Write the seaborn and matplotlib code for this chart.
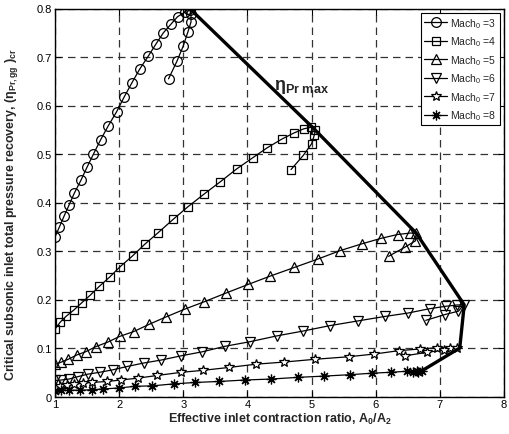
import matplotlib
matplotlib.use("Agg")
import matplotlib.pyplot as plt
import seaborn as sns
import numpy as np

# ---- data ----
m3_x = [1.0, 1.07, 1.145, 1.22, 1.30, 1.405, 1.50, 1.60, 1.71, 1.83, 1.96, 2.08, 2.20, 2.32, 2.455, 2.575,
        2.69, 2.81, 2.91, 3.03, 3.07, 3.11, 3.12, 3.12, 3.07, 3.00, 2.90, 2.77]
m3_y = [0.329, 0.350, 0.373, 0.395, 0.419, 0.446, 0.473, 0.500, 0.529, 0.558, 0.587, 0.618, 0.647, 0.675, 0.702,
        0.727, 0.750, 0.768, 0.783, 0.793, 0.798, 0.797, 0.789, 0.772, 0.751, 0.723, 0.691, 0.655]

m4_x = [1.0, 1.08, 1.17, 1.30, 1.415, 1.55, 1.69, 1.85, 2.01, 2.21, 2.40, 2.61, 2.84, 3.07, 3.33, 3.58, 3.83,
        4.08, 4.31, 4.54, 4.72, 4.88, 4.99, 5.06, 5.045, 5.00, 4.87, 4.68]
m4_y = [0.139, 0.153, 0.165, 0.179, 0.193, 0.209, 0.227, 0.246, 0.267, 0.290, 0.314, 0.338, 0.365, 0.391, 0.418,
        0.443, 0.469, 0.492, 0.513, 0.531, 0.543, 0.552, 0.555, 0.550, 0.540, 0.521, 0.497, 0.468]

m5_x = [1.0, 1.09, 1.21, 1.34, 1.48, 1.64, 1.82, 2.01, 2.23, 2.47, 2.73, 3.02, 3.32, 3.66, 4.01, 4.35, 4.73,
        5.10, 5.45, 5.79, 6.08, 6.34, 6.54, 6.63, 6.62, 6.45, 6.20]
m5_y = [0.066, 0.0705, 0.077, 0.0856, 0.0924, 0.103, 0.112, 0.124, 0.134, 0.149, 0.164, 0.180, 0.195, 0.213,
        0.231, 0.248, 0.266, 0.2835, 0.301, 0.315, 0.326, 0.334, 0.337, 0.3365, 0.321, 0.3075, 0.289]

m6_x = [1.0, 1.10, 1.22, 1.36, 1.51, 1.70, 1.90, 2.13, 2.38, 2.65, 2.97, 3.29, 3.65, 4.04, 4.46, 4.87, 5.28,
        5.73, 6.14, 6.50, 6.84, 7.09, 7.27, 7.37, 7.29, 7.08, 6.78]
m6_y = [0.033, 0.034, 0.036, 0.041, 0.046, 0.050, 0.055, 0.062, 0.069, 0.075, 0.084, 0.092, 0.1035, 0.113,
        0.125, 0.135, 0.146, 0.156, 0.165, 0.172, 0.181, 0.186, 0.1887, 0.189, 0.176, 0.169, 0.157]

m7_x = [1.0, 1.08, 1.18, 1.30, 1.43, 1.58, 1.81, 2.03, 2.30, 2.59, 2.96, 3.31, 3.72, 4.14, 4.57, 5.05, 5.58,
        5.98, 6.36, 6.69, 6.96, 7.16, 7.26, 7.06, 6.80, 6.46]
m7_y = [0.019, 0.021, 0.023, 0.025, 0.0275, 0.029, 0.031, 0.034, 0.038, 0.0433, 0.0497, 0.054, 0.060, 0.0667,
        0.071, 0.0767, 0.082, 0.0876, 0.0945, 0.098, 0.1006, 0.101, 0.0994, 0.0959, 0.091, 0.084]

m8_x = [1.0, 1.10, 1.22, 1.39, 1.57, 1.75, 1.99, 2.25, 2.52, 2.85, 3.19, 3.56, 3.96, 4.37, 4.79, 5.19, 5.60,
        5.94, 6.24, 6.48, 6.64, 6.72, 6.66, 6.58]
m8_y = [0.012, 0.0125, 0.013, 0.013, 0.014, 0.0155, 0.0175, 0.021, 0.022, 0.026, 0.029, 0.031, 0.034, 0.036,
        0.0395, 0.042, 0.045, 0.048, 0.050, 0.052, 0.052, 0.053, 0.0515, 0.050]

peak_x = [3.10, 5.03, 6.63, 7.38, 7.31, 6.72]
peak_y = [0.800, 0.553, 0.337, 0.189, 0.100, 0.053]

mach_labels = ["Mach$_0$ =3", "Mach$_0$ =4", "Mach$_0$ =5", "Mach$_0$ =6", "Mach$_0$ =7", "Mach$_0$ =8"]
x_ticks = [1, 2, 3, 4, 5, 6, 7, 8]
y_ticks = [0, 0.1, 0.2, 0.3, 0.4, 0.5, 0.6, 0.7, 0.8]
y_ticklabels = ["0", "0.1", "0.2", "0.3", "0.4", "0.5", "0.6", "0.7", "0.8"]

# ---- style ----
sns.set_theme(style="white")
plt.rcParams["font.family"] = ["Liberation Sans", "DejaVu Sans"]
plt.rcParams["mathtext.fontset"] = "custom"
plt.rcParams["mathtext.rm"] = "Liberation Sans"
plt.rcParams["mathtext.it"] = "Liberation Sans:italic"
plt.rcParams["mathtext.bf"] = "Liberation Sans:bold"
plt.rcParams["mathtext.default"] = "regular"

fig = plt.figure(figsize=(5.10, 4.35), dpi=100)
ax = fig.add_axes([55 / 510, 1 - 397.5 / 435, (504 - 55) / 510, (397.5 - 9.5) / 435])

series = [
    (m3_x, m3_y, "o", 7, "none"),
    (m4_x, m4_y, "s", 5.5, "none"),
    (m5_x, m5_y, "^", 6.5, "none"),
    (m6_x, m6_y, "v", 6.5, "none"),
    (m7_x, m7_y, "*", 7.5, "white"),
    (m8_x, m8_y, (8, 2, 0), 7, "none"),
]
for (xs, ys, mk, ms, mfc), lab in zip(series, mach_labels):
    sns.lineplot(x=xs, y=ys, sort=False, ax=ax, color="black", linewidth=0.9,
                 marker=mk, markersize=ms, markerfacecolor=mfc, markeredgecolor="black",
                 markeredgewidth=0.9, label=lab, estimator=None)

sns.lineplot(x=peak_x, y=peak_y, sort=False, ax=ax, color="black", linewidth=2.4,
             estimator=None, legend=False)

ax.text(4.42, 0.64, r"$\mathbf{\eta_{Pr\ max}}$", fontsize=13, ha="left", va="center")

ax.set_xlim(1, 8)
ax.set_ylim(0, 0.8)
ax.set_xticks(x_ticks)
ax.set_yticks(y_ticks)
ax.set_yticklabels(y_ticklabels)
ax.tick_params(direction="in", length=4, width=0.8, labelsize=8, colors="black",
               top=True, right=True, bottom=True, left=True, pad=2)
ax.grid(True, color="#333333", linestyle=(0, (6, 4)), linewidth=0.9)
for sp in ax.spines.values():
    sp.set_color("black")
    sp.set_linewidth(1.0)

ax.set_xlabel("Effective inlet contraction ratio, A$_\\mathbf{0}$/A$_\\mathbf{2}$",
              fontsize=9, fontweight="bold", labelpad=1)
ax.set_ylabel(r"Critical subsonic inlet total pressure recovery, ($\mathbf{\eta_{Pr,gg}}$ )$_\mathbf{cr}$",
              fontsize=9, fontweight="bold", labelpad=3)
ax.yaxis.set_label_coords(-0.078, 0.47)

leg = ax.legend(loc="upper right", fontsize=7.5, frameon=True, fancybox=False,
                edgecolor="black", framealpha=1, borderpad=0.3, labelspacing=0.45,
                handlelength=2.2, handletextpad=0.3, borderaxespad=0.4)
leg.get_frame().set_linewidth(0.8)

fig.savefig("out.png", dpi=100)
